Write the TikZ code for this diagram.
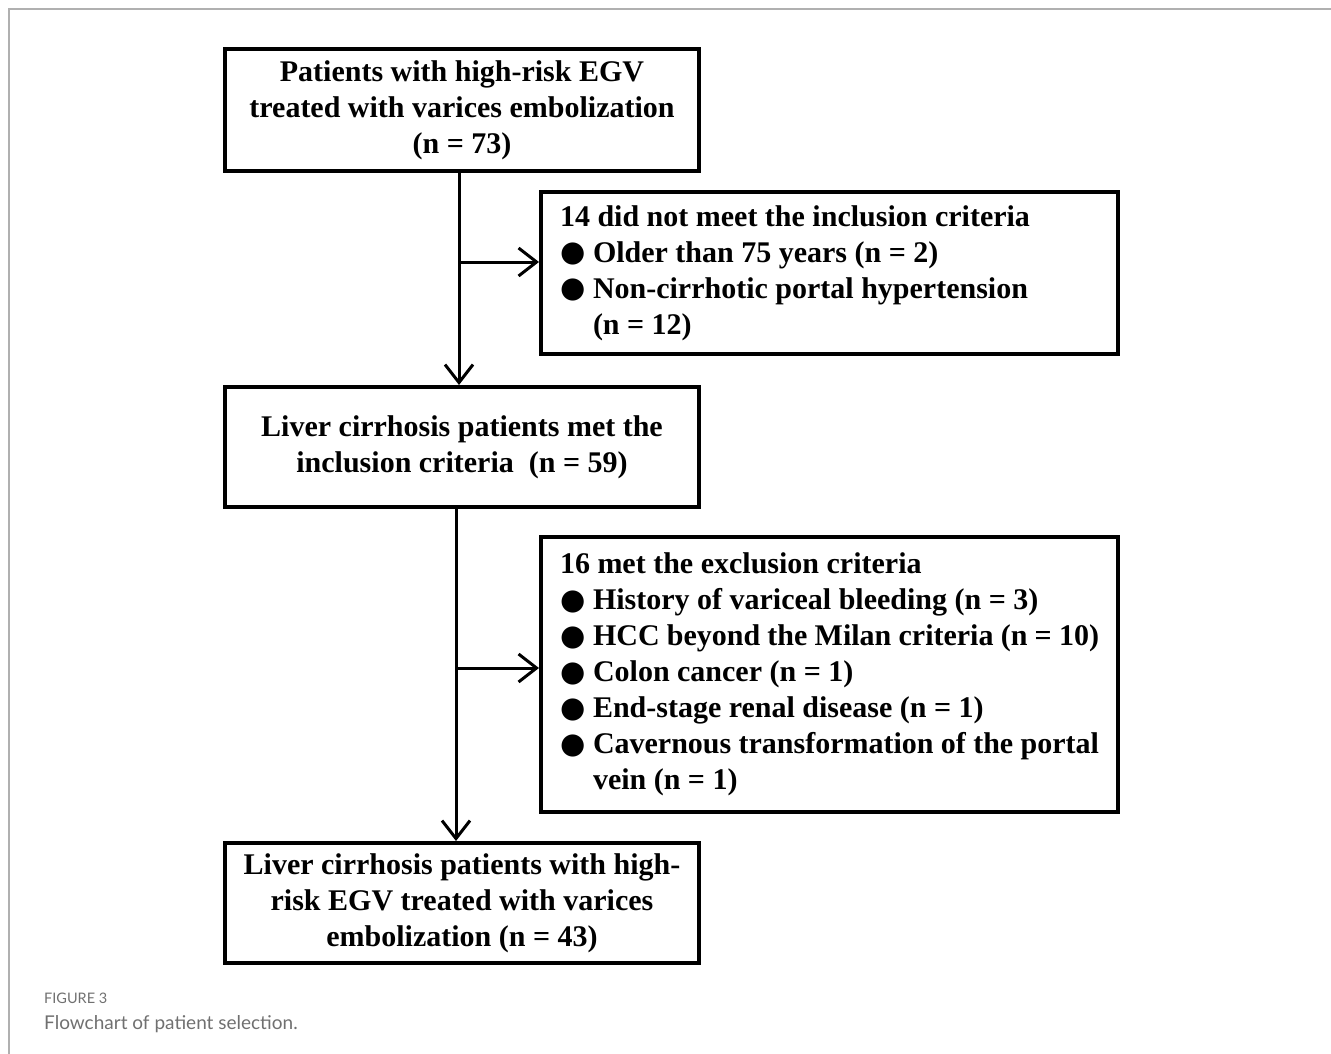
\documentclass[tikz,border=0pt]{standalone}
\usepackage{fontspec}
\setmainfont{Liberation Serif}
\newfontfamily\dejavu{DejaVu Sans}
\newfontfamily\latofont{Lato}
\usetikzlibrary{arrows.meta}
\definecolor{framegray}{HTML}{B0B0B0}
\definecolor{capgray}{HTML}{707070}
\newcommand{\bul}{\makebox[33pt][l]{\raisebox{0.5pt}{{\dejavu\fontsize{29}{36}\selectfont ●}}}}
\begin{document}
\begin{tikzpicture}[x=1pt,y=-1pt,
  box/.style={draw=black, line width=4pt, inner sep=0pt, font=\bfseries\fontsize{30}{36}\selectfont, align=center},
  lbox/.style={box, align=flush left, text width=539pt, inner xsep=19pt},
  arr/.style={line width=3pt, -{Straight Barb[length=18pt,width=28pt,line width=3pt]}},
  frame/.style={draw=framegray, line width=2pt}]
\useasboundingbox (0,0) rectangle (1331,1054);
\draw[frame] (9,1054) -- (9,9) -- (1331,9);
\node[box, minimum width=474pt, minimum height=122pt] (b1) at (462,110)
  {Patients with high-risk EGV\\treated with varices embolization\\(n = 73)};
\node[lbox, minimum height=162pt] (b2) at (829.5,273)
  {14 did not meet the inclusion criteria\\
   \bul Older than 75 years (n = 2)\\
   \bul Non-cirrhotic portal hypertension\\
   \hspace*{33pt}(n = 12)};
\node[box, minimum width=474pt, minimum height=120pt] (b3) at (462,447)
  {Liver cirrhosis patients met the\\inclusion criteria\ \ (n = 59)};
\node[lbox, minimum height=275pt] (b4) at (829.5,674.5)
  {16 met the exclusion criteria\\
   \bul History of variceal bleeding (n = 3)\\
   \bul HCC beyond the Milan criteria (n = 10)\\
   \bul Colon cancer (n = 1)\\
   \bul End-stage renal disease (n = 1)\\
   \bul Cavernous transformation of the portal\\
   \hspace*{33pt}vein (n = 1)};
\node[box, minimum width=474pt, minimum height=120pt] (b5) at (462,903)
  {Liver cirrhosis patients with high-\\risk EGV treated with varices\\embolization (n = 43)};
\coordinate (j1) at (459,262);
\coordinate (j2) at (456,668);
\draw[arr] (b1.south -| j1) -- (b3.north -| j1);
\draw[arr] (j1) -- (j1 -| b2.west);
\draw[arr] (b3.south -| j2) -- (b5.north -| j2);
\draw[arr] (j2) -- (j2 -| b4.west);
\node[anchor=base west, inner sep=0pt, text=capgray, font=\latofont\fontsize{14.5}{18}\selectfont] (cap1) at (44,1003) {FIGURE 3};
\node[anchor=base west, inner sep=0pt, text=capgray, font=\latofont\fontsize{19}{24}\selectfont] (cap2) at (44,1029) {Flowchart of patient selection.};
\end{tikzpicture}
\end{document}
